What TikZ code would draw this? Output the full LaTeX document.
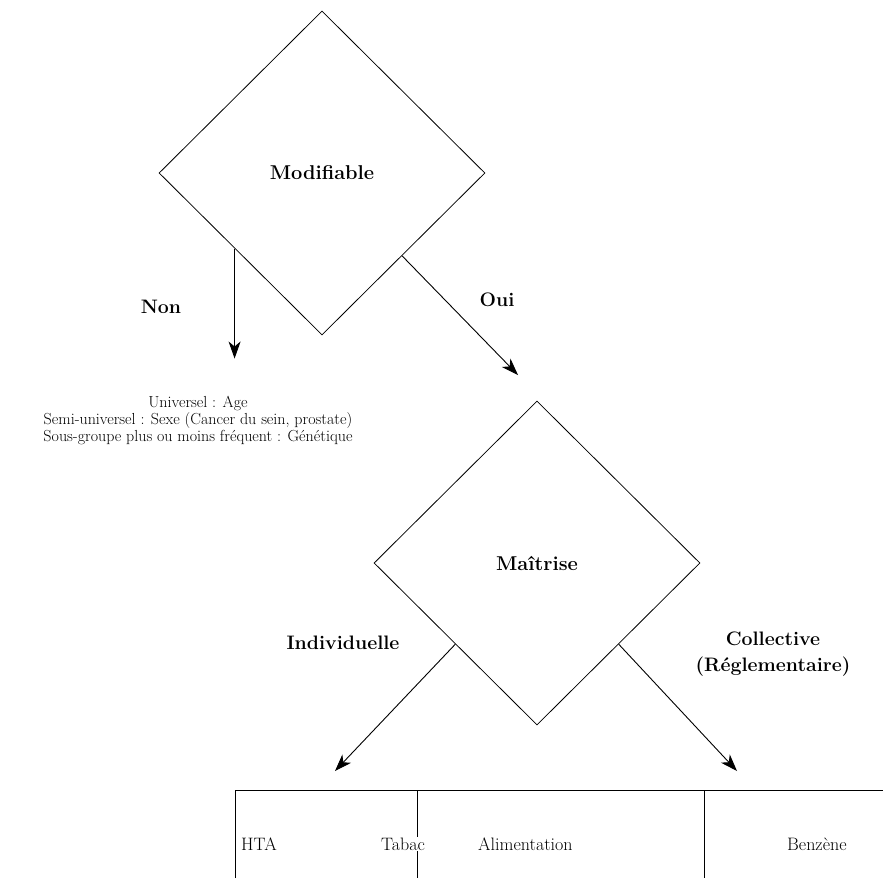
\documentclass[tikz,border=0pt]{standalone}
\usetikzlibrary{shapes.geometric,arrows.meta,calc}
\begin{document}
\begin{tikzpicture}[x=1pt,y=-1pt,
  dec/.style={diamond,draw,line width=0.8pt,minimum width=326pt,minimum height=324pt,inner sep=0pt,font=\bfseries\fontsize{20}{22}\selectfont},
  lbl/.style={font=\bfseries\fontsize{19.5}{26}\selectfont,inner sep=0pt},
  arr/.style={line width=0.9pt,-{Stealth[length=17pt,width=12pt,inset=5pt]}},
  cell/.style={font=\fontsize{18}{20}\selectfont,inner sep=0pt,anchor=base west},
  ln/.style={line width=0.9pt}]
\useasboundingbox (0,0) rectangle (883,878);
\fill[white] (0,0) rectangle (883,878);
% decisions
\node[dec] (mod) at (322,173) {Modifiable};
\node[dec] (mai) at (537,563) {Maîtrise};
% connectors
\coordinate (nonStart) at ($(mod.west)!0.465!(mod.south)$);
\coordinate (nonEnd) at ($(nonStart)+(0,110)$);
\coordinate (ouiStart) at ($(mod.south)!0.49!(mod.east)$);
\coordinate (ouiEnd) at (518,375);
\coordinate (indStart) at ($(mai.west)!0.5!(mai.south)$);
\coordinate (indEnd) at (335,771);
\coordinate (colStart) at ($(mai.south)!0.5!(mai.east)$);
\coordinate (colEnd) at (737,771);
\draw[arr] (nonStart) -- (nonEnd);
\draw[arr] (ouiStart) -- (ouiEnd);
\draw[arr] (indStart) -- (indEnd);
\draw[arr] (colStart) -- (colEnd);
% labels
\node[lbl] (non) at (161,307) {Non};
\node[lbl] (oui) at (497,300) {Oui};
\node[lbl] (ind) at (343,643) {Individuelle};
\node[lbl,align=center,anchor=north] (col) at (773,632) {Collective\\(Réglementaire)};
\node[font=\fontsize{16}{17}\selectfont,align=center,inner sep=0pt] (facts) at (198,420)
  {Universel : Age\\Semi-universel : Sexe (Cancer du sein, prostate)\\Sous-groupe plus ou moins fréquent : Génétique};
% table
\coordinate (tbl) at (235,790);
\draw[ln] (235,878) -- (tbl) -- (883,790);
\draw[ln] (417,790) -- (417,878);
\draw[ln] (704,790) -- (704,878);
\node[cell] (hta) at (241,850) {HTA};
\node[cell,fill=white,inner sep=1pt] (tabac) at (380,850) {Tabac};
\node[cell] (alim) at (478,850) {Alimentation};
\node[cell] (benz) at (787,850) {Benzène};
\end{tikzpicture}
\end{document}
